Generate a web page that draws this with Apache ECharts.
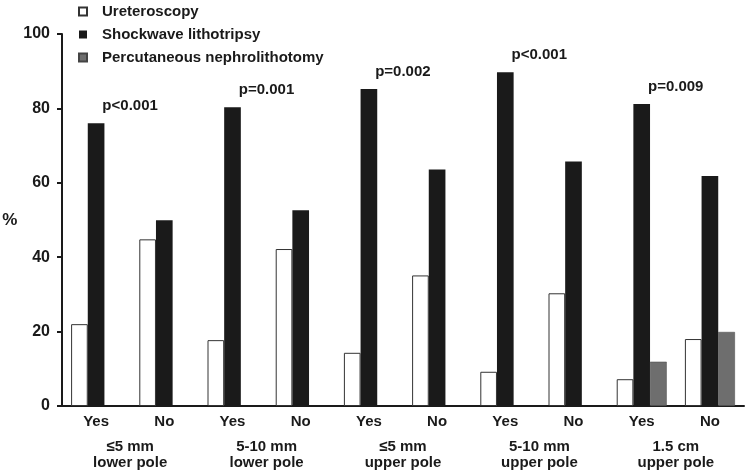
<!DOCTYPE html>
<html>
<head>
<meta charset="utf-8">
<script src="https://cdn.jsdelivr.net/npm/echarts@6/dist/echarts.min.js"></script>
<style>html,body{margin:0;padding:0;background:#fff}#c{width:750px;height:474px}</style>
</head>
<body>
<div id="c"></div>
<script>
var categories = ['Yes','No','Yes','No','Yes','No','Yes','No','Yes','No'];
var groupLabels = ['≤5 mm\nlower pole','5-10 mm\nlower pole','≤5 mm\nupper pole','5-10 mm\nupper pole','1.5 cm\nupper pole'];
var ureteroscopy = [22, 44.8, 17.7, 42.2, 14.3, 35.1, 9.2, 30.3, 7.2, 18];
var shockwave = [76, 49.9, 80.3, 52.6, 85.2, 63.6, 89.7, 65.7, 81.2, 61.8];
var pcnl = [null, null, null, null, null, null, null, null, 11.9, 19.9];
var pValues = ['p<0.001','','p=0.001','','p=0.002','','p<0.001','','p=0.009',''];
var yTicks = [0, 20, 40, 60, 80, 100];

var FONT = '"Liberation Sans", Arial, Helvetica, sans-serif';
var chart = echarts.init(document.getElementById('c'));
chart.setOption({
  animation: false,
  backgroundColor: '#fff',
  grid: {left: 62, right: 6, top: 34, bottom: 68, outerBoundsMode: 'none', containLabel: false},
  legend: {
    orient: 'vertical', left: 78, top: 4, padding: 0,
    itemWidth: 8, itemHeight: 8, itemGap: 8,
    icon: 'rect',
    textStyle: {fontFamily: FONT, fontWeight: 'bold', fontSize: 15, color: '#1a1a1a', lineHeight: 15, padding: [0,0,0,10]},
    data: ['Ureteroscopy','Shockwave lithotripsy','Percutaneous nephrolithotomy']
  },
  xAxis: [{
    type: 'category', data: categories,
    axisLine: {lineStyle: {color: '#1a1a1a', width: 2}},
    axisTick: {show: false},
    axisLabel: {fontFamily: FONT, fontWeight: 'bold', fontSize: 15, color: '#1a1a1a', margin: 8}
  }, {
    type: 'category', data: groupLabels, position: 'bottom',
    axisLine: {show: false}, axisTick: {show: false},
    axisLabel: {fontFamily: FONT, fontWeight: 'bold', fontSize: 15, color: '#1a1a1a', margin: 33, lineHeight: 16}
  }],
  yAxis: {
    type: 'value', min: yTicks[0], max: yTicks[yTicks.length-1], interval: 20,
    name: '%', nameLocation: 'middle', nameRotate: 0, nameGap: 41,
    nameTextStyle: {fontFamily: FONT, fontWeight: 'bold', fontSize: 17, color: '#1a1a1a', padding: [10,0,0,0]},
    splitLine: {show: false},
    axisLine: {show: true, lineStyle: {color: '#1a1a1a', width: 2}},
    axisTick: {show: true, length: 5, lineStyle: {color: '#1a1a1a', width: 2}},
    axisLabel: {fontFamily: FONT, fontWeight: 'bold', fontSize: 16, color: '#1a1a1a', margin: 12}
  },
  series: [{
    name: 'Ureteroscopy', type: 'bar', data: ureteroscopy,
    barGap: '0%', barCategoryGap: '26.7%',
    itemStyle: {color: '#ffffff', borderColor: '#333', borderWidth: 1}
  }, {
    name: 'Shockwave lithotripsy', type: 'bar', data: shockwave,
    itemStyle: {color: '#1a1a1a'},
    label: {
      show: true, position: 'top', distance: 5, offset: [34, -5],
      fontFamily: FONT, fontWeight: 'bold', fontSize: 15, color: '#1a1a1a',
      formatter: function(p){ return pValues[p.dataIndex]; }
    }
  }, {
    name: 'Percutaneous nephrolithotomy', type: 'bar', data: pcnl,
    itemStyle: {color: '#6e6e6e', borderColor: '#444', borderWidth: 0.5}
  }]
});
</script>
</body>
</html>
